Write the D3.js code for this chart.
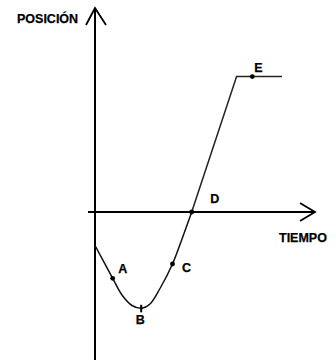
<!DOCTYPE html>
<html>
<head>
<meta charset="utf-8">
<script src="https://cdn.jsdelivr.net/npm/d3@7"></script>
<style>
  html, body { margin: 0; padding: 0; background: #fff; }
  svg { display: block; }
  text { font-family: 'Liberation Sans', Arial, sans-serif; font-weight: bold; font-size: 12.5px; fill: #000; }
</style>
</head>
<body>
<svg id="chart" width="336" height="360"></svg>
<script>
// curva posición-tiempo (unidades arbitrarias)
var curveTiempo = [0, 0.885, 1.35, 1.85, 2.335, 2.75, 3.25, 3.875, 4.35, 4.835];
var curvePosicion = [-1.675, -3.315, -4.15, -4.675, -4.815, -4.6, -3.825, -2.6, -1.35, 0];
var rectaTiempo = [4.835, 7.08, 9.35];
var rectaPosicion = [0, 6.77, 6.77];

var puntosNombre = ['A', 'B', 'C', 'D', 'E'];
var puntosTiempo = [0.885, 2.335, 3.875, 4.835, 7.865];
var puntosPosicion = [-3.315, -4.815, -2.6, 0, 6.77];

var ejeTiempo = [-0.35, 11];
var ejePosicion = [-7.4, 10.2];
var ejeNombres = ['POSICIÓN', 'TIEMPO'];

(function () {
  "use strict";

  var svg = d3.select('#chart');

  var x = d3.scaleLinear().domain([0, 11]).range([95, 315]);
  var y = d3.scaleLinear().domain([0, 10.2]).range([212, 8]);

  var axisG = svg.append('g')
    .attr('class', 'axes')
    .attr('stroke', '#000')
    .attr('stroke-width', 2)
    .attr('fill', 'none');

  // eje vertical con flecha
  axisG.append('line')
    .attr('x1', x(0)).attr('x2', x(0))
    .attr('y1', y(ejePosicion[0])).attr('y2', y(ejePosicion[1]));
  axisG.append('polyline')
    .attr('stroke-width', 1.8)
    .attr('points', [
      [x(0) - 9, y(ejePosicion[1]) + 17],
      [x(0), y(ejePosicion[1])],
      [x(0) + 11, y(ejePosicion[1]) + 17]
    ].join(' '));

  // eje horizontal con flecha
  axisG.append('line')
    .attr('x1', x(ejeTiempo[0])).attr('x2', x(ejeTiempo[1]))
    .attr('y1', y(0)).attr('y2', y(0));
  axisG.append('polyline')
    .attr('stroke-width', 1.8)
    .attr('points', [
      [x(ejeTiempo[1]) - 15, y(0) - 9],
      [x(ejeTiempo[1]), y(0)],
      [x(ejeTiempo[1]) - 15, y(0) + 9]
    ].join(' '));

  svg.append('text')
    .attr('x', 17).attr('y', 23)
    .attr('font-size', 13)
    .attr('stroke', '#000').attr('stroke-width', 0.25)
    .text(ejeNombres[0]);
  svg.append('text')
    .attr('x', 279).attr('y', 242)
    .attr('font-size', 13)
    .attr('stroke', '#000').attr('stroke-width', 0.25)
    .text(ejeNombres[1]);

  // curva
  var curveLine = d3.line()
    .x(function (d) { return x(d[0]); })
    .y(function (d) { return y(d[1]); })
    .curve(d3.curveCatmullRom.alpha(0.5));
  var straightLine = d3.line()
    .x(function (d) { return x(d[0]); })
    .y(function (d) { return y(d[1]); });

  svg.append('path')
    .datum(d3.zip(curveTiempo, curvePosicion))
    .attr('d', curveLine)
    .attr('fill', 'none')
    .attr('stroke', '#111')
    .attr('stroke-width', 1.5);
  svg.append('path')
    .datum(d3.zip(rectaTiempo, rectaPosicion))
    .attr('d', straightLine)
    .attr('fill', 'none')
    .attr('stroke', '#222')
    .attr('stroke-width', 1.5);

  // puntos marcados
  var labelOffset = {
    A: [10, -5], B: [-1.5, 16], C: [14, 8], D: [23, -9.5], E: [6, -5]
  };
  var puntos = puntosNombre.map(function (n, i) {
    return { name: n, t: puntosTiempo[i], p: puntosPosicion[i] };
  });

  var pg = svg.append('g').attr('class', 'points');
  pg.selectAll('circle')
    .data(puntos.filter(function (d) { return d.name !== 'B'; }))
    .enter().append('circle')
    .attr('cx', function (d) { return x(d.t); })
    .attr('cy', function (d) { return y(d.p); })
    .attr('r', 2.4)
    .attr('fill', '#000');
  pg.selectAll('line')
    .data(puntos.filter(function (d) { return d.name === 'B'; }))
    .enter().append('line')
    .attr('x1', function (d) { return x(d.t) - 0.5; })
    .attr('x2', function (d) { return x(d.t) - 0.5; })
    .attr('y1', function (d) { return y(d.p) - 3.5; })
    .attr('y2', function (d) { return y(d.p) + 4; })
    .attr('stroke', '#000')
    .attr('stroke-width', 2);

  pg.selectAll('text')
    .data(puntos)
    .enter().append('text')
    .attr('text-anchor', 'middle')
    .attr('stroke', '#000').attr('stroke-width', 0.25)
    .attr('x', function (d) { return x(d.t) + labelOffset[d.name][0]; })
    .attr('y', function (d) { return y(d.p) + labelOffset[d.name][1]; })
    .text(function (d) { return d.name; });
}());
</script>
</body>
</html>
